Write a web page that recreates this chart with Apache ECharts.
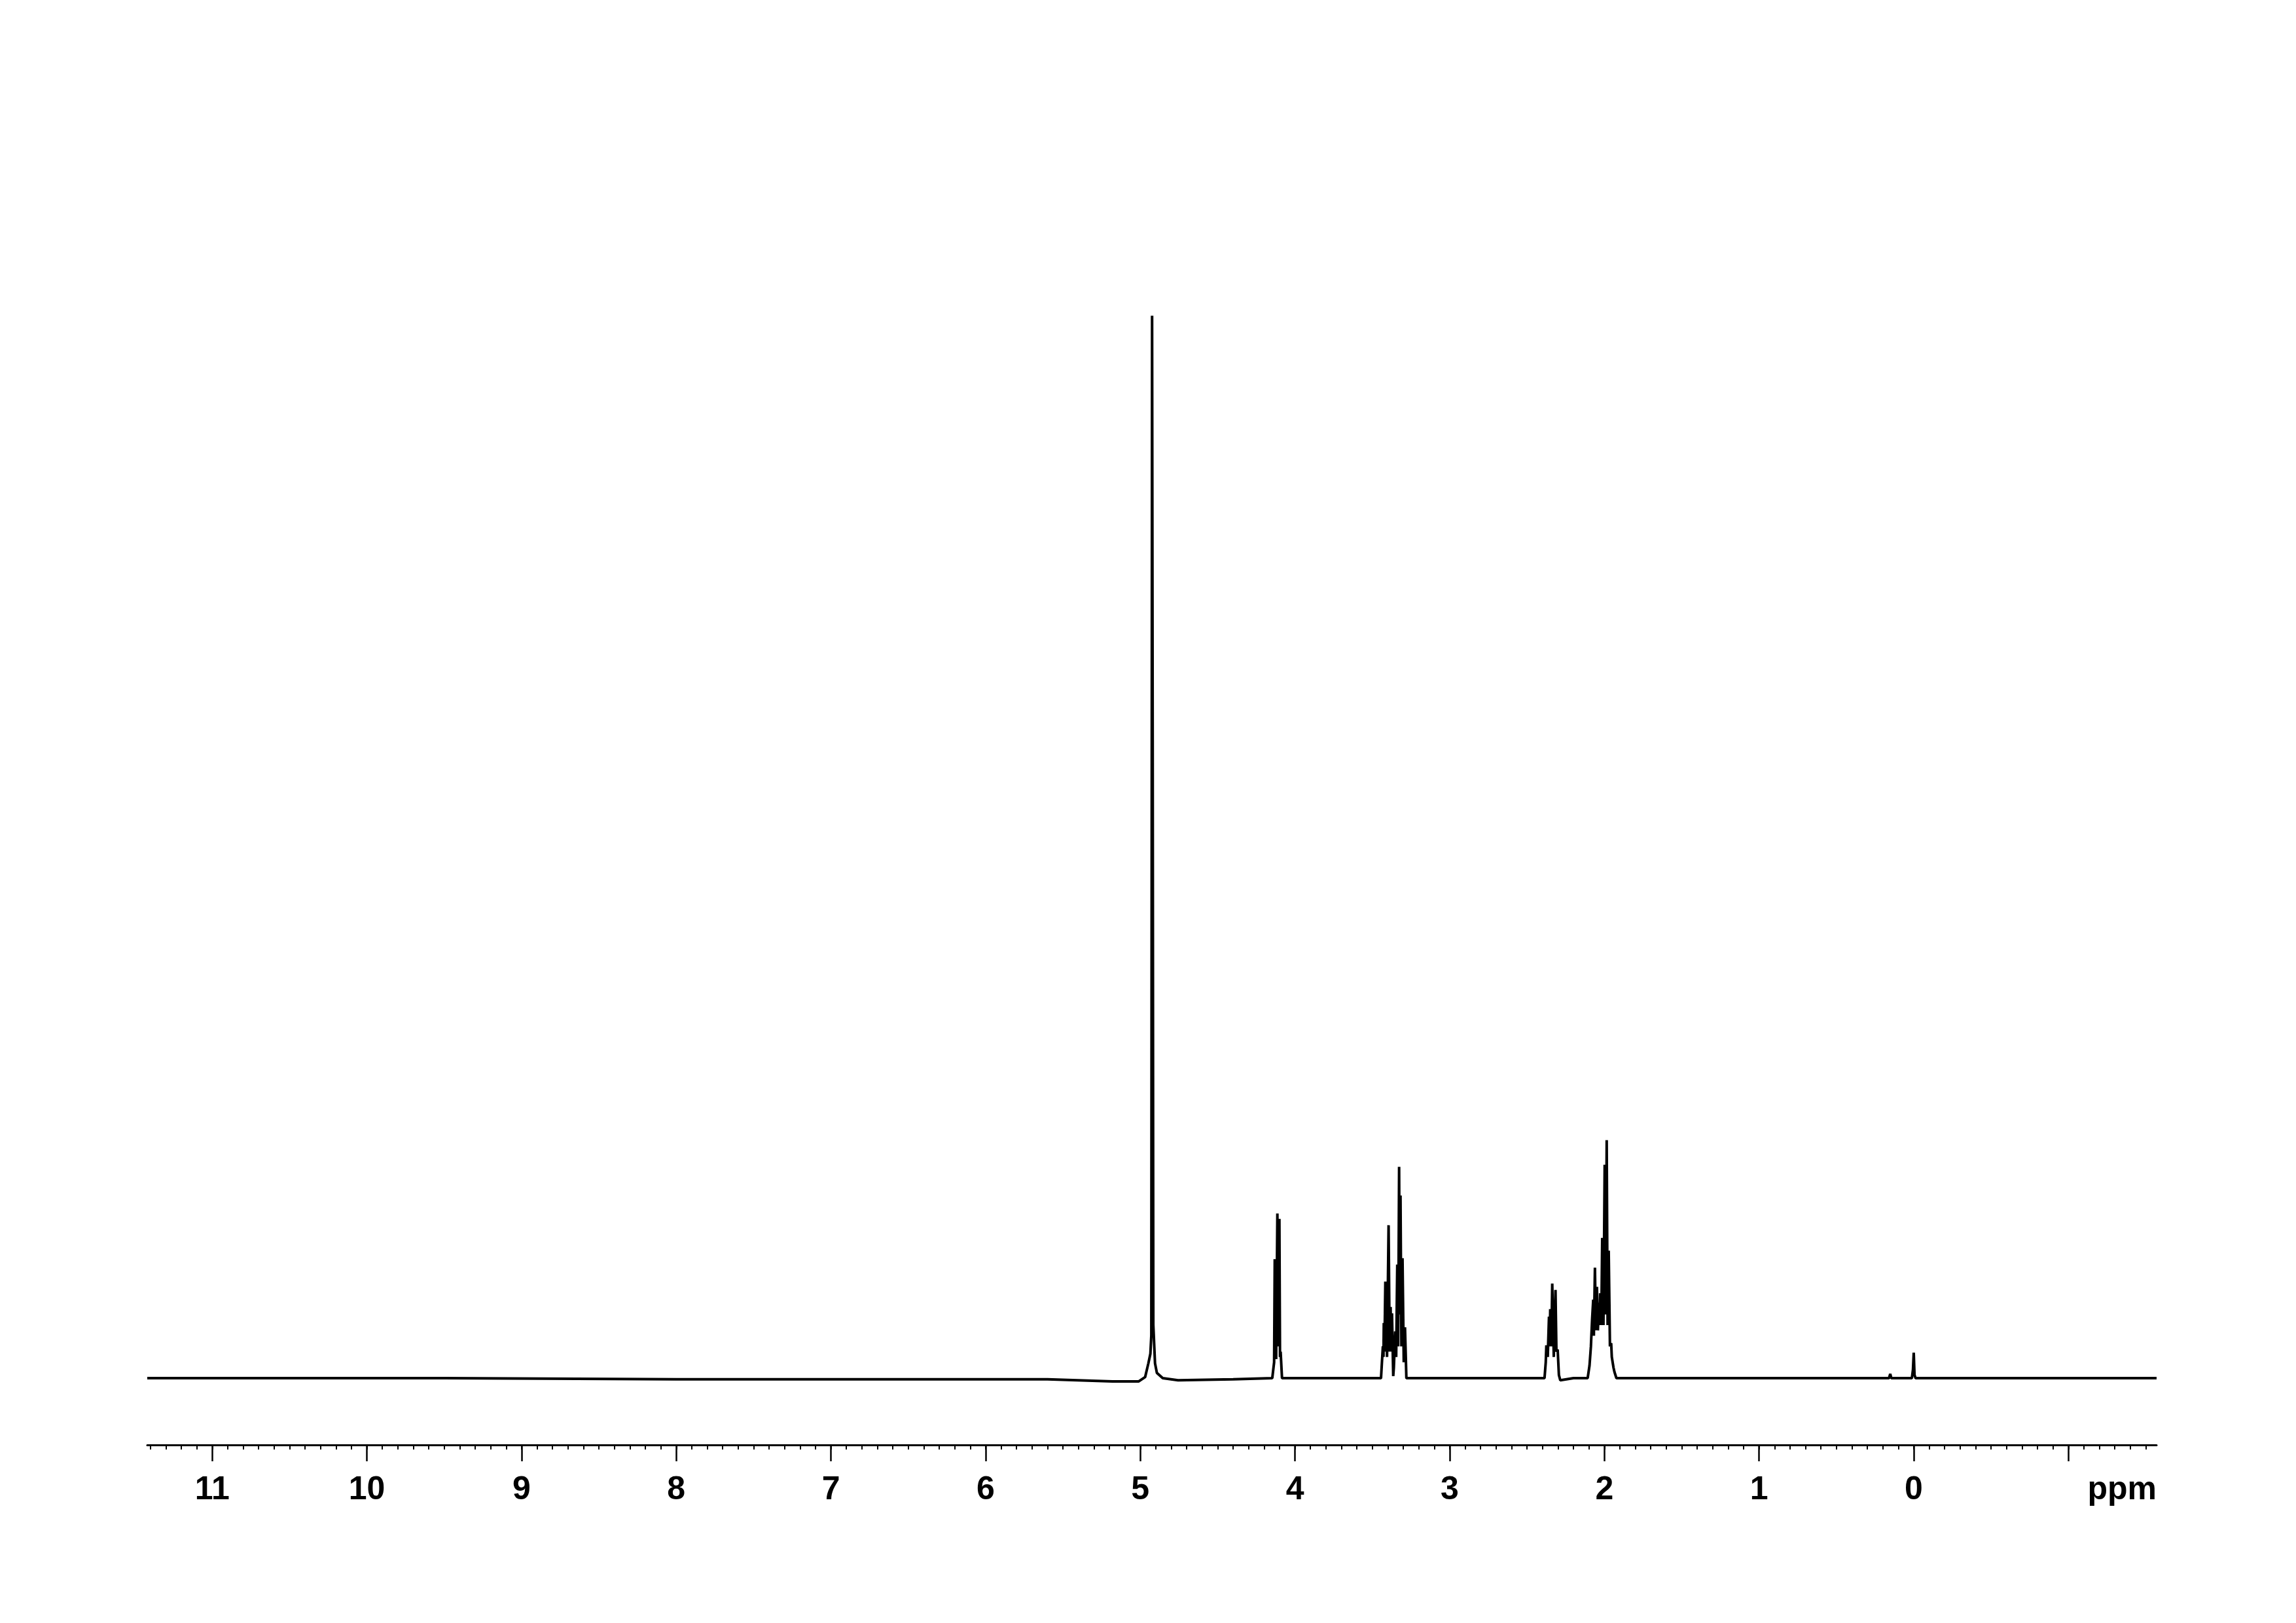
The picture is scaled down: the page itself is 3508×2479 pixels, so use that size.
<!DOCTYPE html>
<html>
<head>
<meta charset="utf-8">
<script src="https://cdn.jsdelivr.net/npm/echarts@6/dist/echarts.min.js"></script>
<style>
html,body{margin:0;padding:0;background:#fff;}
#chart{width:3508px;height:2479px;}
</style>
</head>
<body>
<div id="chart"></div>
<script>
// Chemical shift axis (ppm), major ticks with labels
const majorTicks = [11, 10, 9, 8, 7, 6, 5, 4, 3, 2, 1, 0, -1];
const tickLabels = ['11', '10', '9', '8', '7', '6', '5', '4', '3', '2', '1', '0', 'ppm'];

// Spectrum trace: [ppm, relative intensity (%)]
const baselineLeft = [
  [11.42, 0.0], [9.5, 0.0], [8.0, -0.1], [6.5, -0.1], [5.6, -0.1], [5.18, -0.3], [5.01, -0.3]
];
const peakSolvent = [
  [4.969, 0.1], [4.948, 1.4], [4.935, 2.3], [4.929, 4.0], [4.924, 100], [4.920, 60],
  [4.916, 5.0], [4.905, 1.4], [4.893, 0.5], [4.855, 0.0], [4.756, -0.2], [4.40, -0.1]
];
const peak412 = [
  [4.147, 0.0], [4.135, 1.5], [4.131, 11.2], [4.122, 1.8], [4.114, 15.5], [4.108, 3.0],
  [4.101, 15.0], [4.097, 2.0], [4.093, 2.5], [4.084, 0.0], [3.80, 0.0]
];
const peak336 = [
  [3.444, 0.0], [3.432, 3.0], [3.428, 2.0], [3.426, 5.2], [3.422, 2.5], [3.416, 9.1],
  [3.405, 2.0], [3.395, 14.4], [3.388, 2.5], [3.382, 6.7], [3.378, 2.5], [3.373, 6.1],
  [3.365, 0.2], [3.361, 1.0], [3.352, 4.4], [3.346, 2.0], [3.339, 10.7], [3.333, 3.0],
  [3.327, 19.9], [3.323, 6.0], [3.318, 17.2], [3.312, 3.0], [3.305, 11.3], [3.297, 1.5],
  [3.289, 4.8], [3.280, 0.0], [2.80, 0.0]
];
const peak234 = [
  [2.387, 0.0], [2.379, 1.5], [2.375, 3.1], [2.366, 2.0], [2.358, 5.8], [2.354, 3.0],
  [2.350, 6.5], [2.343, 3.0], [2.337, 8.9], [2.327, 2.0], [2.316, 8.3], [2.310, 2.5],
  [2.302, 2.7], [2.294, 0.3], [2.285, -0.2], [2.20, 0.0]
];
const peak202 = [
  [2.108, 0.0], [2.096, 1.2], [2.087, 3.0], [2.079, 5.6], [2.072, 7.4], [2.068, 4.0],
  [2.061, 10.4], [2.055, 4.5], [2.048, 8.6], [2.042, 4.5], [2.035, 7.1], [2.031, 5.0],
  [2.027, 8.0], [2.020, 5.0], [2.014, 13.2], [2.006, 5.0], [1.998, 20.1], [1.991, 6.0],
  [1.985, 22.4], [1.979, 5.0], [1.972, 12.0], [1.964, 3.0], [1.956, 3.3], [1.952, 2.0],
  [1.947, 1.9], [1.941, 1.0], [1.935, 0.6], [1.922, 0.0]
];
const peakTMS = [
  [1.0, 0.0], [0.16, 0.0], [0.152, 0.4], [0.145, 0.0], [0.012, 0.0], [0.005, 0.8],
  [0.0, 2.4], [-0.005, 0.3], [-0.012, 0.0], [-1.57, 0.0]
];

const spectrum = [].concat(baselineLeft, peakSolvent, peak412, peak336, peak234, peak202, peakTMS);

const minorTicks = [];
for (let i = 114; i >= -15; i--) minorTicks.push(i / 10);

const FONT = '"Liberation Sans", Arial, Helvetica, sans-serif';
const X_MIN = -1.57, X_MAX = 11.42;

const chart = echarts.init(document.getElementById('chart'), null, {renderer: 'canvas'});
chart.setOption({
  animation: false,
  backgroundColor: '#ffffff',
  grid: {left: 225, right: 213, top: 466, bottom: 272, containLabel: false},
  xAxis: [
    {
      type: 'value', inverse: true, min: X_MIN, max: X_MAX, position: 'bottom',
      axisLine: {show: true, onZero: false, lineStyle: {color: '#000', width: 3}},
      axisTick: {show: true, customValues: minorTicks, length: 7, lineStyle: {color: '#000', width: 2}},
      axisLabel: {show: false},
      splitLine: {show: false}
    },
    {
      type: 'value', inverse: true, min: X_MIN, max: X_MAX, position: 'bottom', gridIndex: 0,
      axisLine: {show: false, onZero: false},
      axisTick: {show: true, customValues: majorTicks, length: 25, lineStyle: {color: '#000', width: 2.5}},
      axisLabel: {
        show: true, customValues: majorTicks, margin: 44,
        color: '#000', fontSize: 50, fontWeight: 'bold', fontFamily: FONT,
        formatter: function (v) {
          const i = majorTicks.findIndex(function (t) { return Math.abs(t - v) < 1e-6; });
          const s = i >= 0 ? tickLabels[i] : '';
          return s === 'ppm' ? '{u|ppm}' : s;
        },
        rich: {u: {color: '#000', fontSize: 50, fontWeight: 'bold', fontFamily: FONT, padding: [0, 0, 0, 164]}}
      },
      splitLine: {show: false}
    }
  ],
  yAxis: {
    type: 'value', min: -6.28, max: 101, show: false, splitLine: {show: false}
  },
  series: [{
    type: 'line', xAxisIndex: 0, data: spectrum, showSymbol: false, symbol: 'none',
    sampling: 'none', clip: false,
    lineStyle: {color: '#000', width: 4}
  }]
});
</script>
</body>
</html>
